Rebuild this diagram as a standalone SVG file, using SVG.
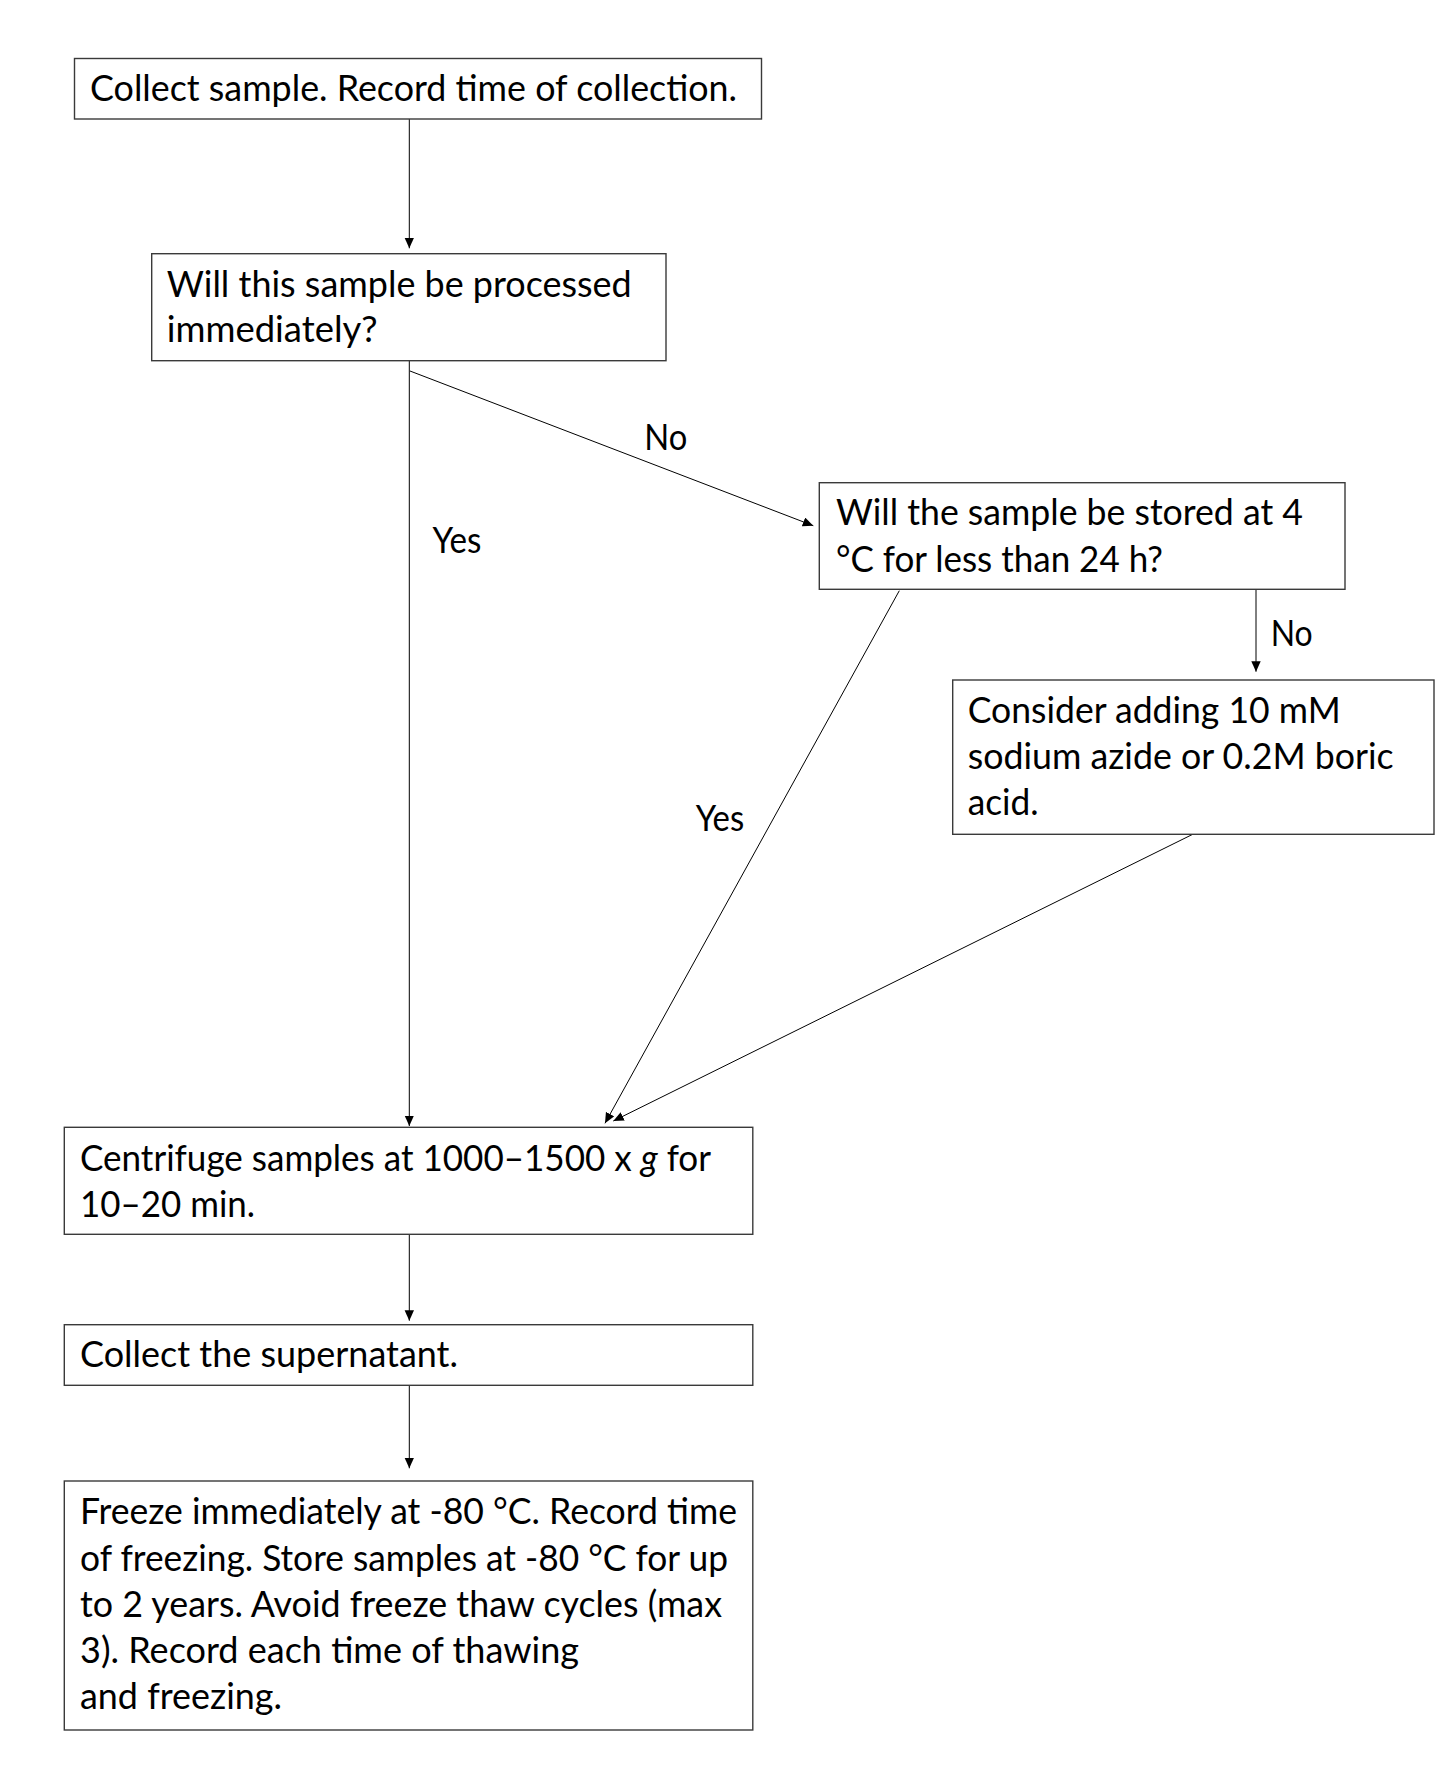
<svg xmlns="http://www.w3.org/2000/svg" width="1456" height="1788" viewBox="0 0 1456 1788">
<style>
.box{fill:#fff;stroke:#3a3a3a;stroke-width:1.4}
.t{font-family:Lato,"Liberation Sans",sans-serif;font-size:36px;fill:#000}
.c{stroke:#000;stroke-width:1;fill:none;marker-end:url(#ah)}
</style>
<defs>
<marker id="ah" markerUnits="userSpaceOnUse" markerWidth="12" markerHeight="10" refX="10.5" refY="4.7" orient="auto">
<path d="M0,0 L10.5,4.7 L0,9.4 z" fill="#000"/>
</marker>
</defs>
<rect width="1456" height="1788" fill="#fff"/>
<g id="connectors">
<line class="c" x1="409.3" y1="119" x2="409.3" y2="248.3"/>
<line class="c" x1="409.3" y1="361" x2="409.3" y2="1126"/>
<line class="c" x1="410" y1="371" x2="813.3" y2="525.7"/>
<line class="c" x1="899.3" y1="590.7" x2="605" y2="1123.3"/>
<line class="c" x1="1256" y1="590" x2="1256" y2="671.7"/>
<line class="c" x1="1192.3" y1="834.5" x2="613.3" y2="1121"/>
<line class="c" x1="409.3" y1="1234.5" x2="409.3" y2="1320.7"/>
<line class="c" x1="409.3" y1="1385.5" x2="409.3" y2="1468.3"/>
<text class="t" x="644.3" y="450" textLength="43" lengthAdjust="spacingAndGlyphs">No</text>
<text class="t" x="432.5" y="553.3" textLength="49" lengthAdjust="spacingAndGlyphs">Yes</text>
<text class="t" x="695.7" y="830.7" textLength="48.5" lengthAdjust="spacingAndGlyphs">Yes</text>
<text class="t" x="1270.7" y="645.7" textLength="42" lengthAdjust="spacingAndGlyphs">No</text>
</g>
<g id="n1">
<rect class="box" x="74.5" y="58.5" width="687" height="60.5"/>
<text class="t" x="90" y="100.7" textLength="647" lengthAdjust="spacingAndGlyphs">Collect sample. Record time of collection.</text>
</g>
<g id="n2">
<rect class="box" x="151.7" y="253.7" width="514.3" height="107"/>
<text class="t" x="166.7" y="296.7" textLength="465" lengthAdjust="spacingAndGlyphs">Will this sample be processed</text>
<text class="t" x="166.7" y="341.7" textLength="211" lengthAdjust="spacingAndGlyphs">immediately?</text>
</g>
<g id="n3">
<rect class="box" x="819.3" y="482.7" width="525.7" height="106.6"/>
<text class="t" x="836" y="525" textLength="467" lengthAdjust="spacingAndGlyphs">Will the sample be stored at 4</text>
<text class="t" x="836" y="571.7" textLength="327" lengthAdjust="spacingAndGlyphs">°C for less than 24 h?</text>
</g>
<g id="n4">
<rect class="box" x="952.7" y="680" width="481.3" height="154.3"/>
<text class="t" x="967.7" y="722.7" textLength="373" lengthAdjust="spacingAndGlyphs">Consider adding 10 mM</text>
<text class="t" x="967.7" y="768.7" textLength="426" lengthAdjust="spacingAndGlyphs">sodium azide or 0.2M boric</text>
<text class="t" x="967.7" y="815" textLength="71" lengthAdjust="spacingAndGlyphs">acid.</text>
</g>
<g id="n5">
<rect class="box" x="64.3" y="1127.3" width="688.5" height="107"/>
<text class="t" x="80" y="1171" textLength="631" lengthAdjust="spacingAndGlyphs">Centrifuge samples at 1000–1500 x <tspan font-style="italic">g</tspan> for</text>
<text class="t" x="80" y="1217.3" textLength="175" lengthAdjust="spacingAndGlyphs">10–20 min.</text>
</g>
<g id="n6">
<rect class="box" x="64.3" y="1324.7" width="688.5" height="60.6"/>
<text class="t" x="80" y="1367.3" textLength="378" lengthAdjust="spacingAndGlyphs">Collect the supernatant.</text>
</g>
<g id="n7">
<rect class="box" x="64.3" y="1481" width="688.5" height="249"/>
<text class="t" x="80" y="1524.3" textLength="657" lengthAdjust="spacingAndGlyphs">Freeze immediately at -80 °C. Record time</text>
<text class="t" x="80" y="1570.5" textLength="648" lengthAdjust="spacingAndGlyphs">of freezing. Store samples at -80 °C for up</text>
<text class="t" x="80" y="1616.7" textLength="642" lengthAdjust="spacingAndGlyphs">to 2 years. Avoid freeze thaw cycles (max</text>
<text class="t" x="80" y="1662.9" textLength="499" lengthAdjust="spacingAndGlyphs">3). Record each time of thawing</text>
<text class="t" x="80" y="1709.1" textLength="202" lengthAdjust="spacingAndGlyphs">and freezing.</text>
</g>
</svg>
